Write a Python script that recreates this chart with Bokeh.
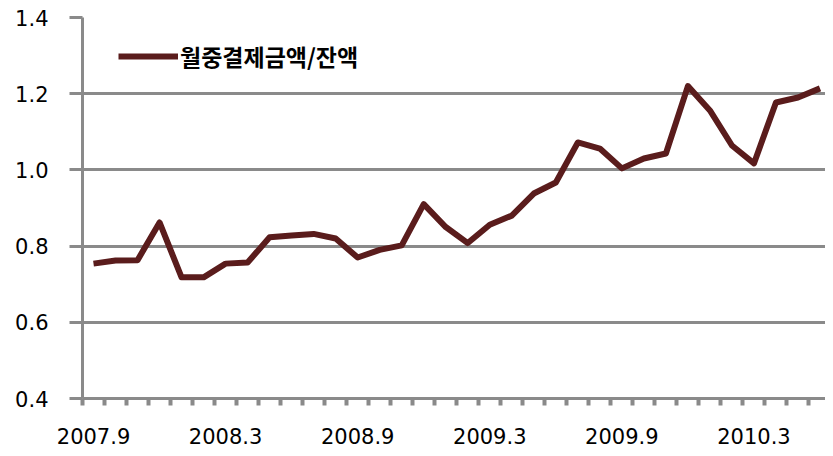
from bokeh.plotting import figure
from bokeh.models import Range1d, FixedTicker, Legend, LegendItem, ColumnDataSource
from bokeh.embed import file_html
from bokeh.resources import INLINE

months = ["2007.9", "2007.10", "2007.11", "2007.12", "2008.1", "2008.2", "2008.3", "2008.4",
          "2008.5", "2008.6", "2008.7", "2008.8", "2008.9", "2008.10", "2008.11", "2008.12",
          "2009.1", "2009.2", "2009.3", "2009.4", "2009.5", "2009.6", "2009.7", "2009.8",
          "2009.9", "2009.10", "2009.11", "2009.12", "2010.1", "2010.2", "2010.3", "2010.4",
          "2010.5", "2010.6"]
ratio = [0.754, 0.762, 0.763, 0.862, 0.718, 0.718, 0.754, 0.757,
         0.823, 0.828, 0.832, 0.820, 0.770, 0.790, 0.802, 0.910,
         0.850, 0.808, 0.856, 0.880, 0.938, 0.967, 1.072, 1.056,
         1.004, 1.030, 1.043, 1.220, 1.156, 1.064, 1.017, 1.177,
         1.190, 1.214]
series_name = "월중결제금액/잔액"
y_ticks = [0.4, 0.6, 0.8, 1.0, 1.2, 1.4]
label_every = 6

idx = list(range(len(months)))
src = ColumnDataSource(dict(x=idx, y=ratio, m=months))

p = figure(width=825, height=448, output_backend="svg", toolbar_location=None,
           x_range=Range1d(-0.5, len(months) - 0.75), y_range=Range1d(0.4, 1.4),
           min_border_left=82, min_border_right=0, min_border_top=17, min_border_bottom=50)
p.outline_line_color = None
p.background_fill_color = "white"

GRAY = "#8a8a8a"
FONT = "DejaVu Sans"

# y axis
p.yaxis.ticker = FixedTicker(ticks=y_ticks)
p.yaxis.major_label_overrides = {t: f"{t:.1f}" for t in y_ticks}
p.yaxis.axis_line_color = GRAY
p.yaxis.axis_line_width = 3
p.yaxis.major_tick_line_color = GRAY
p.yaxis.major_tick_line_width = 3
p.yaxis.major_tick_out = 13
p.yaxis.major_tick_in = 0
p.yaxis.minor_tick_line_color = None
p.yaxis.major_label_standoff = 21
p.yaxis.major_label_text_font = FONT
p.yaxis.major_label_text_font_size = "21px"
p.yaxis.major_label_text_color = "black"

# x axis
major = [i for i in idx if i % label_every == 0]
p.xaxis.ticker = FixedTicker(ticks=major, minor_ticks=[i - 0.5 for i in range(len(months) + 1)])
p.xaxis.major_label_overrides = {i: months[i] for i in major}
p.xaxis.axis_line_color = GRAY
p.xaxis.axis_line_width = 3
p.xaxis.major_tick_line_color = None
p.xaxis.major_tick_out = 0
p.xaxis.major_tick_in = 0
p.xaxis.minor_tick_line_color = GRAY
p.xaxis.minor_tick_line_width = 4
p.xaxis.minor_tick_out = 7
p.xaxis.minor_tick_in = 0
p.xaxis.major_label_standoff = 22
p.xaxis.major_label_text_font = FONT
p.xaxis.major_label_text_font_size = "21px"
p.xaxis.major_label_text_color = "black"

p.xgrid.grid_line_color = None
p.ygrid.grid_line_color = GRAY
p.ygrid.grid_line_width = 3

r = p.line("x", "y", source=src, line_color="#5a1c1c", line_width=6, line_join="round")

legend = Legend(items=[LegendItem(label=series_name, renderers=[r])],
                location=(36, 325), padding=0, margin=0, spacing=0,
                glyph_width=60, glyph_height=20, label_standoff=2,
                border_line_color=None, background_fill_alpha=0,
                label_text_font="Noto Sans CJK KR", label_text_font_style="bold",
                label_text_font_size="23px", label_text_color="black")
p.add_layout(legend, "center")

open("out.html", "w").write(file_html(p, INLINE))
